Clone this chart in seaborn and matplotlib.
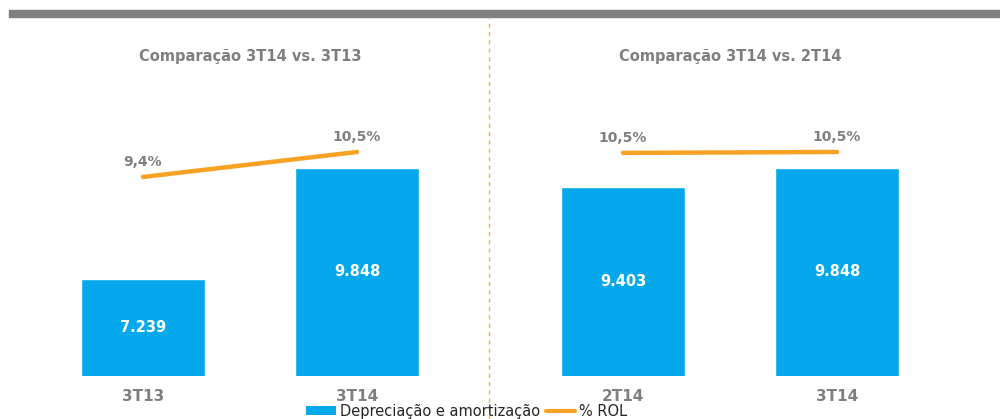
import numpy as np
import pandas as pd
import seaborn as sns
import matplotlib.pyplot as plt
from matplotlib.patches import Patch, Rectangle
from matplotlib.lines import Line2D

# dados dos dois painéis
titulos = ['Comparação 3T14 vs. 3T13', 'Comparação 3T14 vs. 2T14']
periodos_esq = ['3T13', '3T14']
periodos_dir = ['2T14', '3T14']
deprec_esq = [7239, 9848]
deprec_dir = [9403, 9848]
rol_esq = [9.4, 10.5]
rol_dir = [10.46, 10.5]

AZUL = '#05A8EA'
LARANJA = '#F7A125'
CINZA = '#7F7F7F'

sns.set_theme(style='white')
plt.rcParams['font.family'] = ['DejaVu Sans']

fig = plt.figure(figsize=(10, 4.19), dpi=100)
fig.patch.set_facecolor('white')

paineis = [
    (0.036, periodos_esq, deprec_esq, rol_esq, titulos[0]),
    (0.516, periodos_dir, deprec_dir, rol_dir, titulos[1]),
]

for x0, per, dep, rol, tit in paineis:
    ax = fig.add_axes([x0, 1 - 376 / 419, 0.428, 276 / 419])
    df = pd.DataFrame({'periodo': per, 'deprec': dep, 'rol': rol})
    sns.barplot(data=df, x='periodo', y='deprec', color=AZUL, width=0.575,
                saturation=1, ax=ax)
    ax.set_ylim(4950, 11444)
    ax.set_xlim(-0.5, 1.5)
    for i, v in enumerate(dep):
        ax.text(i, (4950 + v) / 2, f'{v:,}'.replace(',', '.'), ha='center', va='center',
                color='white', fontsize=10.5, fontweight='bold')
    ax.set_xlabel('')
    ax.set_ylabel('')
    ax.set_yticks([])
    ax.tick_params(axis='x', length=0, pad=9)
    for lbl in ax.get_xticklabels():
        lbl.set_fontweight('bold')
        lbl.set_color(CINZA)
        lbl.set_fontsize(11)
    sns.despine(ax=ax, left=True, bottom=True)
    ax.patch.set_alpha(0)

    ax2 = ax.twinx()
    sns.pointplot(data=df, x='periodo', y='rol', color=LARANJA, markers='',
                  linewidth=3.2, ax=ax2)
    ax2.set_ylim(0.63, 12.79)
    ax2.set_xlim(-0.5, 1.5)
    for i, v in enumerate(rol):
        ax2.annotate(f'{v:.1f}'.replace('.', ',') + '%', (i, v), xytext=(0, 11),
                     textcoords='offset points', ha='center', va='center',
                     fontsize=10, fontweight='bold', color=CINZA)
    ax2.set_ylabel('')
    ax2.set_yticks([])
    sns.despine(ax=ax2, left=True, bottom=True, right=True)

    fig.text(x0 + 0.214, 1 - 57 / 419, tit, ha='center', va='center',
             fontsize=10.5, fontweight='bold', color=CINZA)

# faixa cinza no topo e divisor tracejado
fig.patches.append(Rectangle((0.009, 1 - 17 / 419), 0.991, 7 / 419,
                             transform=fig.transFigure, color='#808080'))
fig.lines.append(Line2D([0.489, 0.489], [0, 1 - 17 / 419], transform=fig.transFigure,
                        color='#F5B24F', lw=1, dashes=(3, 3)))

handles = [Patch(facecolor=AZUL, edgecolor='none', label='Depreciação e amortização'),
           Line2D([], [], color=LARANJA, lw=3, label='% ROL')]
fig.legend(handles=handles, loc='center', bbox_to_anchor=(0.467, 1 - 411 / 419), ncol=2,
           frameon=False, fontsize=10.5, handlelength=2.0, handleheight=0.6,
           handletextpad=0.3, columnspacing=0.4, borderpad=0)

fig.savefig('out.png', dpi=100, facecolor='white')
